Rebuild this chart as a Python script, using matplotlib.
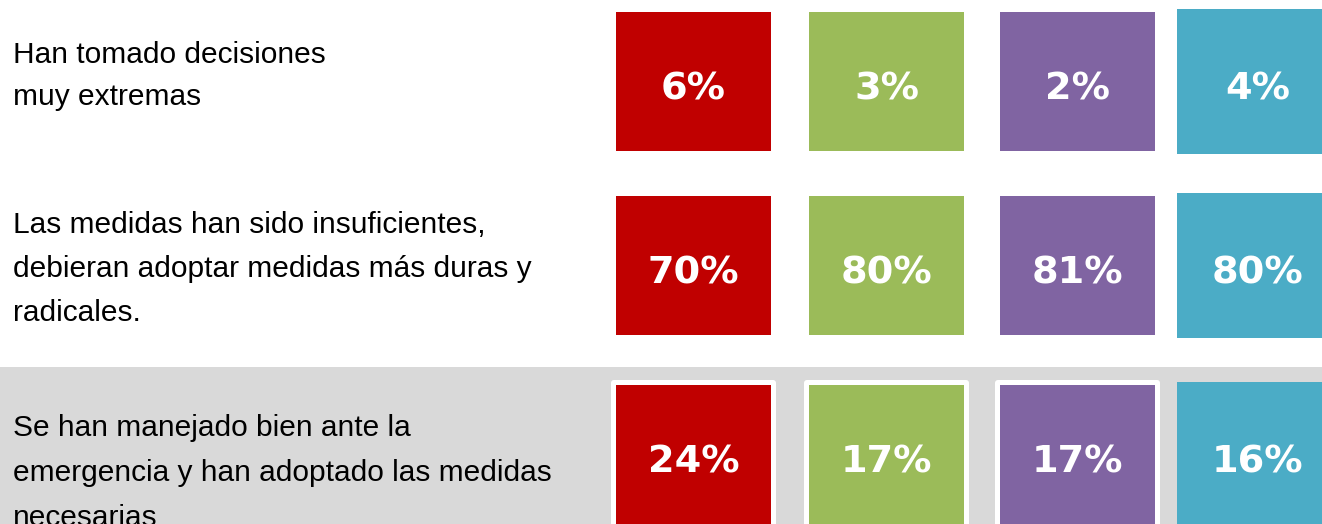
import matplotlib
matplotlib.use("Agg")
import matplotlib.pyplot as plt
from matplotlib.patches import FancyBboxPatch

# ---- data ----
categories = [
    "Han tomado decisiones\nmuy extremas",
    "Las medidas han sido insuficientes,\ndebieran adoptar medidas más duras y\nradicales.",
    "Se han manejado bien ante la\nemergencia y han adoptado las medidas\nnecesarias",
]
series_1 = [6, 70, 24]
series_2 = [3, 80, 17]
series_3 = [2, 81, 17]
series_4 = [4, 80, 16]
series = [series_1, series_2, series_3, series_4]
colors = ["#c00000", "#9bbb59", "#8064a2", "#4bacc6"]

# ---- layout (pixel units) ----
W, H = 1322, 524
col_left = [616, 809, 1000, 1177]
col_width = [155, 155, 155, 161]
row_top = [12, 196, 385]
box_h = [139, 139, 139, 145]
top_shift = [0, 0, 0, -3]
label_baselines = [[63, 105], [233, 277, 321], [436, 481, 526]]
band_top = 367
highlight_row = 2

fig = plt.figure(figsize=(W / 100, H / 100), dpi=100)
ax = fig.add_axes([0, 0, 1, 1])
ax.set_xlim(0, W)
ax.set_ylim(H, 0)
ax.axis("off")

ax.axhspan(band_top, H + 50, color="#d9d9d9", zorder=0, lw=0)

for ci, vals in enumerate(series):
    for ri, v in enumerate(vals):
        top = row_top[ri] + top_shift[ci]
        x0 = col_left[ci]
        w = col_width[ci]
        h = box_h[ci]
        if ri == highlight_row and ci < 3:
            ax.add_patch(FancyBboxPatch((x0 - 5, top - 5), w + 10, h + 10,
                                        boxstyle="round,pad=0,rounding_size=3",
                                        fc="white", ec="none", zorder=1))
        ax.bar(x0, h, width=w, bottom=top, align="edge", color=colors[ci],
               zorder=2, lw=0)
        ax.text(x0 + w / 2, top + h / 2 + 18, f"{v}%", ha="center", va="baseline",
                color="white", fontsize=27.5, fontweight="bold",
                family="DejaVu Sans", zorder=3)

for ri, lab in enumerate(categories):
    for li, line in enumerate(lab.split("\n")):
        ax.text(13, label_baselines[ri][li], line, ha="left", va="baseline",
                fontsize=21.5, family="Liberation Sans", color="black", zorder=3)

fig.savefig("out.png", dpi=100)
